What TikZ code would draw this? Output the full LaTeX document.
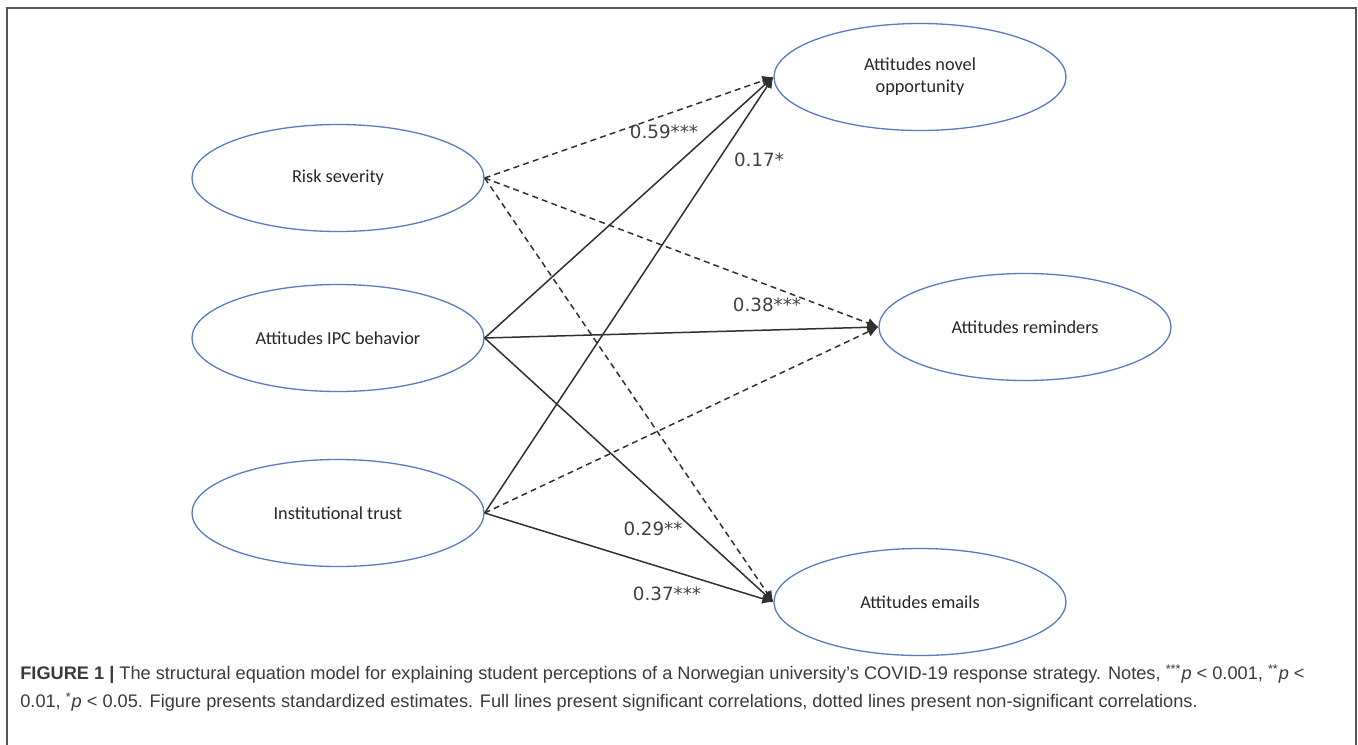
\documentclass[tikz,border=0pt]{standalone}
\usepackage{fontspec}
\setmainfont{Liberation Sans}
\newfontfamily\ovalfont{Carlito}
\newfontfamily\estfont{DejaVu Sans}
\usepackage{tikz}
\usetikzlibrary{arrows.meta,positioning,shapes.geometric}
\definecolor{ovalblue}{HTML}{5A7CBF}
\definecolor{linegrey}{HTML}{303030}
\definecolor{estgrey}{HTML}{404040}
\definecolor{captgrey}{HTML}{3A3A3A}
\definecolor{framegrey}{HTML}{555555}
\tikzset{
  latent/.style     = {draw=ovalblue, line width=0.75pt, ellipse, minimum width=58.4mm,
                       minimum height=21.4mm, inner sep=1pt, align=center,
                       font=\ovalfont\fontsize{10.4}{12.5}\selectfont, text=black!85},
  sigpath/.style    = {-{Latex[length=2.2mm, width=2.1mm]}, line width=0.85pt, draw=linegrey},
  nspath/.style     = {sigpath, dash pattern=on 3.4pt off 2.4pt},
  est/.style        = {font=\estfont\fontsize{10.4}{12}\selectfont, text=estgrey, inner sep=0pt},
  capt/.style       = {font=\fontsize{10.35}{16}\selectfont, text=captgrey, inner sep=0pt, align=left},
}

\begin{document}
\begin{tikzpicture}[x=0.2mm, y=-0.2mm]
  \useasboundingbox (0,0) rectangle (1358,744);
  \draw[framegrey, line width=1.1pt] (7,750) -- (7,8) -- (1356,8) -- (1356,750);
  \foreach \n/\x/\y/\t in {rs/338/178/{Risk severity}, ipc/338/338/{Attitudes IPC behavior},
      it/338/513/{Institutional trust}, ano/920/77/{Attitudes novel\\opportunity},
      ar/1025/327/{Attitudes reminders}, ae/920/602/{Attitudes emails}} {
    \node[latent] (\n) at (\x,\y) {\t};
  }
  \foreach \a/\b in {rs/ano, rs/ar, rs/ae, it/ar} {
    \draw[nspath] (\a.east) -- (\b.west);
  }
  \foreach \a/\b in {ipc/ano, ipc/ar, ipc/ae, it/ano, it/ae} {
    \draw[sigpath] (\a.east) -- (\b.west);
  }
  \foreach \n/\x/\y/\v in {e059/664/132/{0.59***}, e017/759/160/{0.17*}, e038/767/305/{0.38***},
      e029/653/529/{0.29**}, e037/667/594/{0.37***}} {
    \node[est] (\n) at (\x,\y) {\v};
  }
  \node[capt, anchor=north west] (cap) at (20,664)
    {\textbf{FIGURE 1 |} The structural equation model for explaining student perceptions of a Norwegian university’s COVID-19 response strategy. Notes, \textsuperscript{***}\textit{p} < 0.001, \textsuperscript{**}\textit{p} <\\
     0.01, \textsuperscript{*}\textit{p} < 0.05. Figure presents standardized estimates. Full lines present significant correlations, dotted lines present non-significant correlations.};
\end{tikzpicture}
\end{document}
